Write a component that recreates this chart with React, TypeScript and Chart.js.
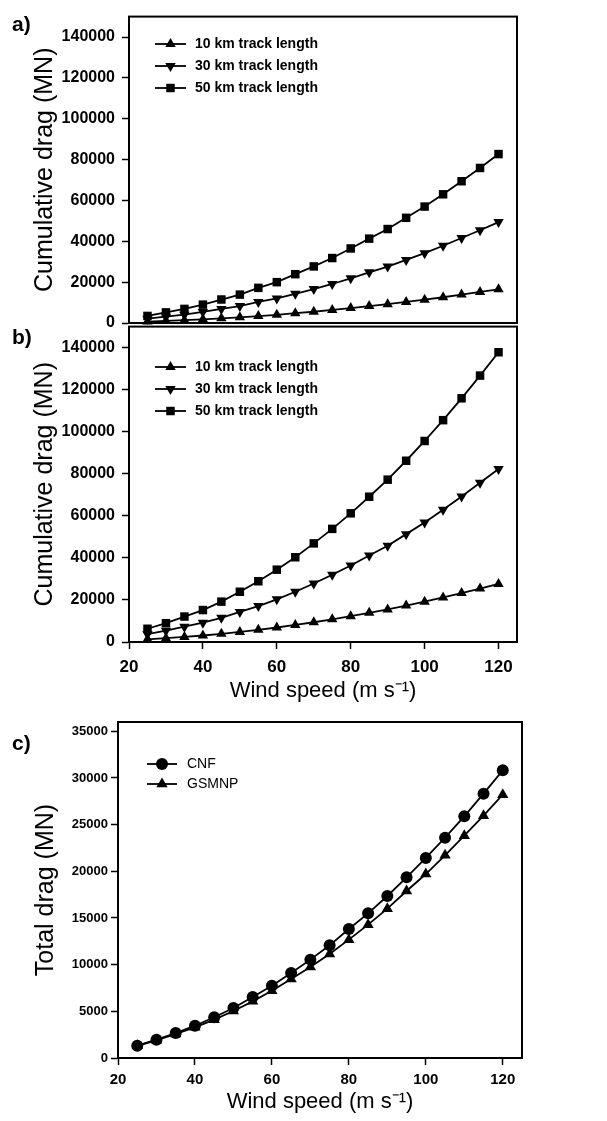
import React, { useEffect, useRef } from "react";
import { Chart, registerables } from "chart.js";

Chart.register(...registerables);

const FONT = "'Liberation Sans', Arial, Helvetica, sans-serif";
Chart.defaults.font.family = FONT;
Chart.defaults.color = "#000";

// ---- Data ----
const windSpeed = [25, 30, 35, 40, 45, 50, 55, 60, 65, 70, 75, 80, 85, 90, 95, 100, 105, 110, 115, 120];

// Panel a
const a10km = [700, 1050, 1400, 1800, 2300, 2800, 3400, 4000, 4800, 5500, 6400, 7300, 8300, 9200, 10300, 11400, 12600, 13900, 15200, 16500];
const a30km = [2100, 3100, 4100, 5400, 6900, 8300, 10300, 12000, 14300, 16600, 19100, 21900, 24800, 27600, 30900, 34200, 37800, 41600, 45400, 49400];
const a50km = [3460, 5200, 6900, 9000, 11500, 13900, 17200, 20000, 23900, 27700, 31800, 36500, 41300, 46000, 51500, 57000, 63000, 69400, 75900, 82700];

// Panel b
const b10km = [1250, 1800, 2400, 3100, 3900, 4800, 5800, 6900, 8100, 9400, 10800, 12300, 13900, 15500, 17300, 19200, 21200, 23300, 25400, 27600];
const b30km = [3700, 5400, 7300, 9200, 11500, 14300, 17100, 20300, 23900, 27800, 32000, 36400, 41100, 45800, 51300, 56800, 62900, 69200, 75700, 82300];
const b50km = [6300, 8950, 12100, 15200, 19200, 23900, 28900, 34400, 40300, 46900, 53800, 61200, 69100, 77200, 86200, 95600, 105500, 115900, 126700, 137800];

// Panel c
const cCNF = [1320, 1960, 2680, 3460, 4360, 5360, 6540, 7750, 9110, 10540, 12070, 13820, 15500, 17360, 19360, 21430, 23610, 25890, 28320, 30820];
const cGSMNP = [1300, 1890, 2570, 3290, 4110, 5040, 6070, 7210, 8460, 9750, 11140, 12680, 14290, 16000, 17890, 19710, 21710, 23820, 25960, 28210];

const yTicksAB = [0, 20000, 40000, 60000, 80000, 100000, 120000, 140000];
const yTicksC = [0, 5000, 10000, 15000, 20000, 25000, 30000, 35000];
const xTicks = [20, 40, 60, 80, 100, 120];

const trackLabels = ["10 km track length", "30 km track length", "50 km track length"];
const siteLabels = ["CNF", "GSMNP"];
const xTitle = "Wind speed (m s\u207B\u00B9)";

// ---- Helpers ----
function drawMarker(ctx: CanvasRenderingContext2D, style: string, x: number, y: number, r: number) {
  ctx.beginPath();
  if (style === "triangle") {
    const s = Math.sin(Math.PI / 3) * r;
    ctx.moveTo(x, y - r);
    ctx.lineTo(x + s, y + r / 2);
    ctx.lineTo(x - s, y + r / 2);
    ctx.closePath();
  } else if (style === "triangleDown") {
    const s = Math.sin(Math.PI / 3) * r;
    ctx.moveTo(x, y + r);
    ctx.lineTo(x + s, y - r / 2);
    ctx.lineTo(x - s, y - r / 2);
    ctx.closePath();
  } else if (style === "rect") {
    const h = Math.SQRT1_2 * r;
    ctx.rect(x - h, y - h, 2 * h, 2 * h);
  } else {
    ctx.arc(x, y, r, 0, Math.PI * 2);
  }
  ctx.fillStyle = "#000";
  ctx.fill();
}

const legendPlugin = {
  id: "customLegend",
  afterDraw(chart: any, _args: any, opts: any) {
    const ctx = chart.ctx as CanvasRenderingContext2D;
    ctx.save();
    chart.data.datasets.forEach((ds: any, i: number) => {
      const y = opts.y + i * opts.dy;
      ctx.strokeStyle = "#000";
      ctx.lineWidth = 1.8;
      ctx.beginPath();
      ctx.moveTo(opts.x1, y);
      ctx.lineTo(opts.x2, y);
      ctx.stroke();
      drawMarker(ctx, ds.markerStyle, (opts.x1 + opts.x2) / 2, y, ds.pointRadius);
      ctx.font = `${opts.weight} ${opts.size}px ${FONT}`;
      ctx.fillStyle = "#000";
      ctx.textBaseline = "middle";
      ctx.textAlign = "left";
      ctx.fillText(ds.label, opts.tx, y);
    });
    ctx.restore();
  },
};

const boxPlugin = {
  id: "boxFrame",
  afterDraw(chart: any) {
    const { ctx, chartArea } = chart;
    ctx.save();
    ctx.strokeStyle = "#000";
    ctx.lineWidth = 2;
    ctx.strokeRect(chartArea.left, chartArea.top, chartArea.right - chartArea.left, chartArea.bottom - chartArea.top);
    ctx.restore();
  },
};

function makeDataset(label: string, values: number[], markerStyle: string, r: number) {
  const pointStyle = markerStyle === "triangleDown" ? "triangle" : markerStyle;
  return {
    label,
    data: windSpeed.map((x, i) => ({ x, y: values[i] })),
    borderColor: "#000",
    backgroundColor: "#000",
    borderWidth: 1.8,
    pointStyle,
    rotation: markerStyle === "triangleDown" ? 180 : 0,
    pointRadius: r,
    pointBorderWidth: 0,
    pointBackgroundColor: "#000",
    markerStyle,
    clip: false,
    tension: 0,
  };
}

type PanelOpts = {
  datasets: any[];
  yMax: number;
  yTicks: number[];
  yWidth: number;
  yTitle: string;
  yTitleSize: number;
  yTitlePad: number;
  yTickSize: number;
  yTickPad: number;
  showX: boolean;
  xHeight?: number;
  xTickSize?: number;
  xTickPad?: number;
  xTitlePad?: number;
  padding: { left: number; right: number; top: number; bottom: number };
  legend: any;
};

function makeConfig(o: PanelOpts): any {
  return {
    type: "line",
    data: { datasets: o.datasets },
    plugins: [legendPlugin, boxPlugin],
    options: {
      responsive: false,
      animation: false,
      layout: { padding: o.padding },
      plugins: {
        legend: { display: false },
        tooltip: { enabled: false },
        customLegend: o.legend,
      },
      scales: {
        x: {
          type: "linear",
          min: 20,
          max: 125,
          display: o.showX,
          afterBuildTicks: (s: any) => {
            s.ticks = xTicks.map((v) => ({ value: v }));
          },
          afterFit: (s: any) => {
            if (o.xHeight) s.height = o.xHeight;
          },
          ticks: {
            font: { size: o.xTickSize || 15, weight: "bold" },
            color: "#000",
            padding: o.xTickPad || 6,
            maxRotation: 0,
            callback: (v: any) => String(v),
          },
          grid: {
            display: true,
            drawOnChartArea: false,
            drawTicks: true,
            tickLength: 7,
            tickWidth: 1.5,
            tickColor: "#000",
            color: "#000",
          },
          border: { display: true, color: "#000", width: 2 },
          title: {
            display: true,
            text: xTitle,
            font: { size: 22, weight: "normal" },
            color: "#000",
            padding: { top: 0, bottom: o.xTitlePad || 6 },
          },
        },
        y: {
          type: "linear",
          min: 0,
          max: o.yMax,
          afterBuildTicks: (s: any) => {
            s.ticks = o.yTicks.map((v) => ({ value: v }));
          },
          afterFit: (s: any) => {
            s.width = o.yWidth;
          },
          ticks: {
            font: { size: o.yTickSize, weight: "bold" },
            color: "#000",
            padding: o.yTickPad,
            callback: (v: any) => String(v),
          },
          grid: {
            display: true,
            drawOnChartArea: false,
            drawTicks: true,
            tickLength: 7,
            tickWidth: 1.5,
            tickColor: "#000",
            color: "#000",
          },
          border: { display: true, color: "#000", width: 2 },
          title: {
            display: true,
            text: o.yTitle,
            font: { size: o.yTitleSize, weight: "normal" },
            color: "#000",
            padding: { top: o.yTitlePad, bottom: 0 },
          },
        },
      },
    },
  };
}

function ChartCanvas({ config, top, height }: { config: () => any; top: number; height: number }) {
  const ref = useRef<HTMLCanvasElement | null>(null);
  useEffect(() => {
    const chart = new Chart(ref.current as HTMLCanvasElement, config());
    return () => chart.destroy();
  }, []);
  return (
    <canvas
      ref={ref}
      width={607}
      height={height}
      style={{ position: "absolute", left: 0, top, width: 607, height, display: "block" }}
    />
  );
}

const configA = () =>
  makeConfig({
    datasets: [
      makeDataset(trackLabels[0], a10km, "triangle", 6),
      makeDataset(trackLabels[1], a30km, "triangleDown", 6),
      makeDataset(trackLabels[2], a50km, "rect", 6),
    ],
    yMax: 150000,
    yTicks: yTicksAB,
    yWidth: 129,
    yTitle: "Cumulative drag (MN)",
    yTitleSize: 25,
    yTitlePad: 30,
    yTickSize: 16,
    yTickPad: 7,
    showX: false,
    padding: { left: 0, right: 90, top: 7, bottom: 17 },
    legend: { x1: 155, x2: 186, tx: 195, y: 44, dy: 22, size: 14, weight: "bold" },
  });

const configB = () =>
  makeConfig({
    datasets: [
      makeDataset(trackLabels[0], b10km, "triangle", 6),
      makeDataset(trackLabels[1], b30km, "triangleDown", 6),
      makeDataset(trackLabels[2], b50km, "rect", 6),
    ],
    yMax: 150000,
    yTicks: yTicksAB,
    yWidth: 129,
    yTitle: "Cumulative drag (MN)",
    yTitleSize: 25,
    yTitlePad: 30,
    yTickSize: 16,
    yTickPad: 7,
    showX: true,
    xHeight: 68,
    xTickSize: 17,
    xTickPad: 8,
    xTitlePad: 6,
    padding: { left: 0, right: 90, top: 13, bottom: 0 },
    legend: { x1: 155, x2: 186, tx: 195, y: 57, dy: 22, size: 14, weight: "bold" },
  });

const configC = () =>
  makeConfig({
    datasets: [
      makeDataset(siteLabels[0], cCNF, "circle", 6),
      makeDataset(siteLabels[1], cGSMNP, "triangle", 6.5),
    ],
    yMax: 36000,
    yTicks: yTicksC,
    yWidth: 118,
    yTitle: "Total drag (MN)",
    yTitleSize: 25,
    yTitlePad: 31,
    yTickSize: 13,
    yTickPad: 3,
    showX: true,
    xHeight: 63,
    xTickSize: 15,
    xTickPad: 6,
    xTitlePad: 6,
    padding: { left: 0, right: 85, top: 22, bottom: 0 },
    legend: { x1: 147, x2: 177, tx: 187, y: 64, dy: 20, size: 14, weight: "normal" },
  });

const letterStyle: React.CSSProperties = {
  position: "absolute",
  left: 12,
  fontFamily: FONT,
  fontSize: 21,
  fontWeight: "bold",
  lineHeight: "24px",
  color: "#000",
};

export default function App() {
  return (
    <div style={{ position: "absolute", left: 0, top: 0, width: 607, height: 1121, background: "#fff", overflow: "hidden" }}>
      <ChartCanvas config={configA} top={0} height={340} />
      <ChartCanvas config={configB} top={310} height={400} />
      <ChartCanvas config={configC} top={700} height={421} />
      <div style={{ ...letterStyle, top: 12 }}>a)</div>
      <div style={{ ...letterStyle, top: 325 }}>b)</div>
      <div style={{ ...letterStyle, top: 731 }}>c)</div>
    </div>
  );
}
